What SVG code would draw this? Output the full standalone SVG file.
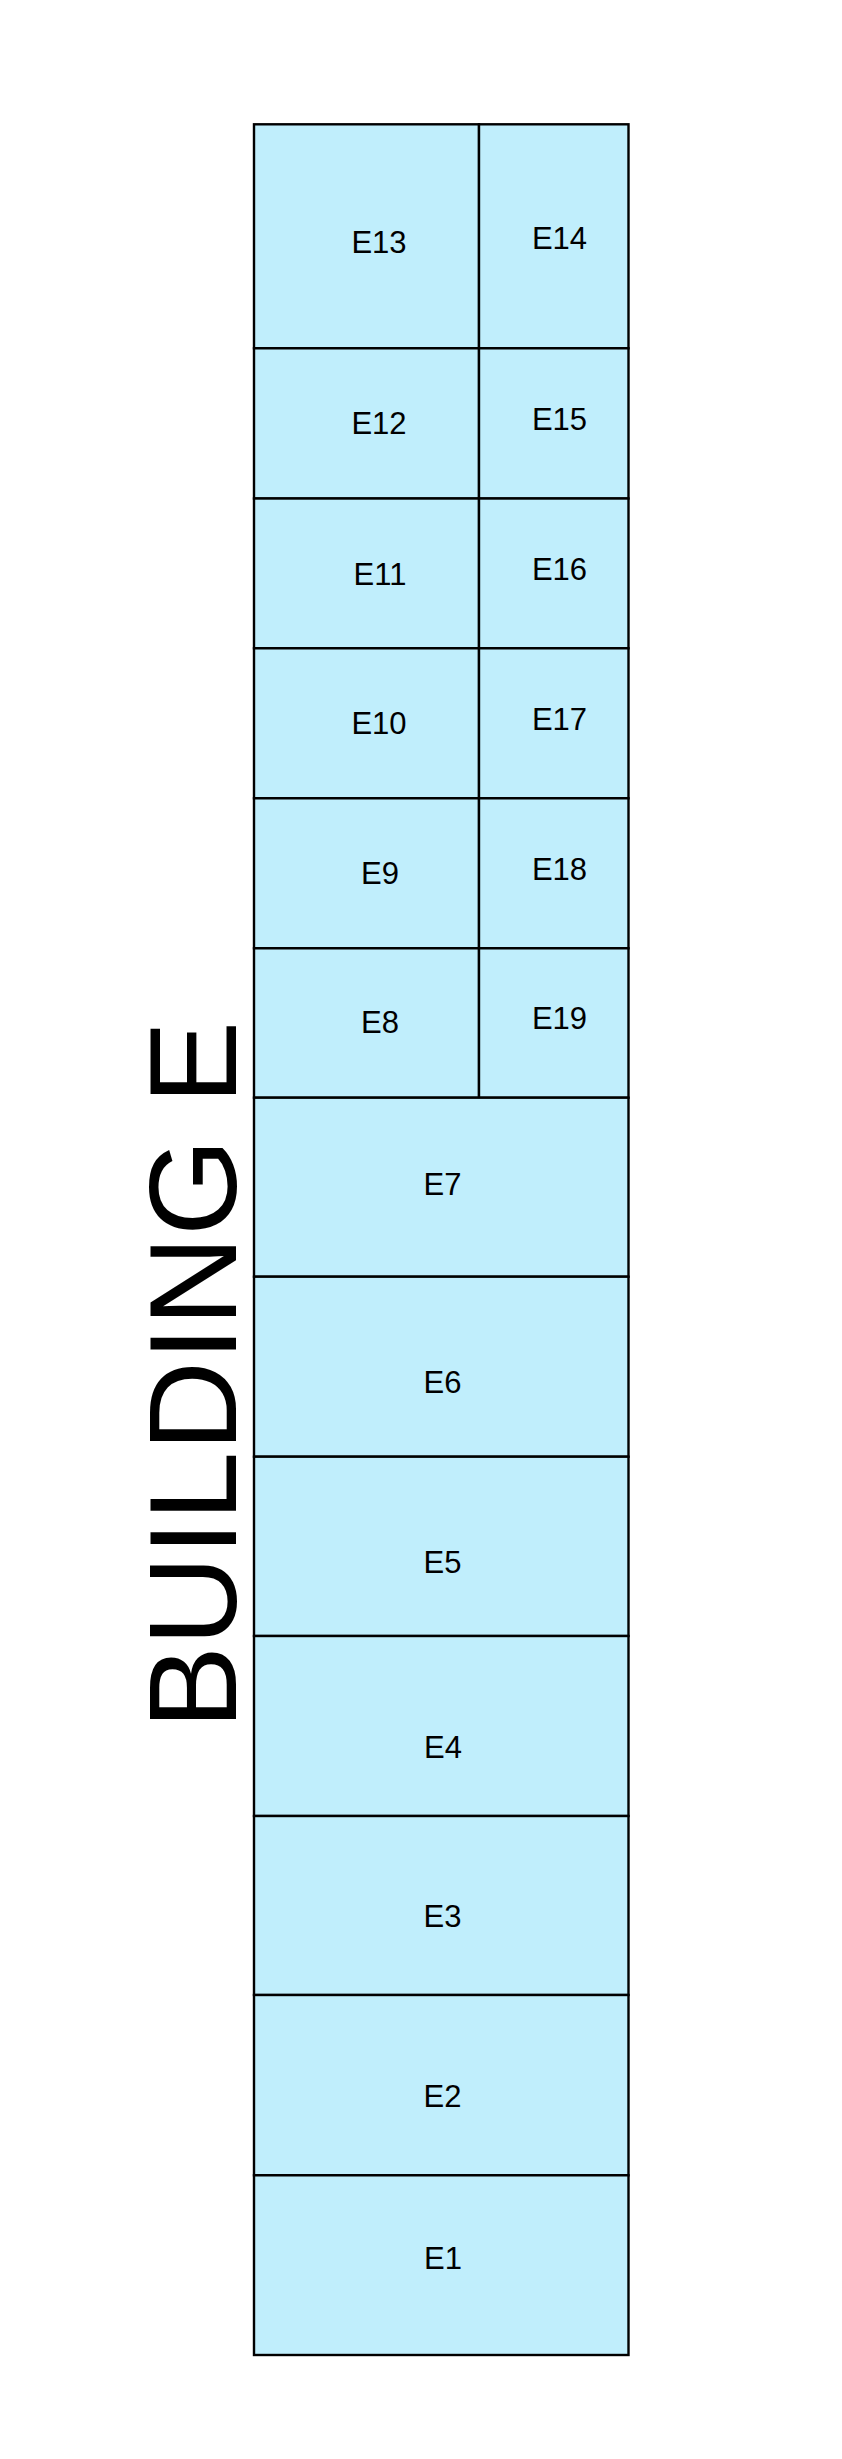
<svg xmlns="http://www.w3.org/2000/svg" width="842" height="2459" viewBox="0 0 842 2459">
<style>
.cell{fill:#C0EEFC;stroke:#000;stroke-width:2.4}
.lbl{font-family:"Liberation Sans",Arial,sans-serif;font-size:31px;fill:#000;text-anchor:middle}
.title{font-family:"Liberation Sans",Arial,sans-serif;font-size:125px;fill:#000;text-anchor:middle}
</style>
<rect width="842" height="2459" fill="#fff"/>
<g id="E13"><rect class="cell" x="254" y="124.3" width="225" height="224"/><text class="lbl" x="379" y="253.3">E13</text></g>
<g id="E14"><rect class="cell" x="479" y="124.3" width="149.5" height="224"/><text class="lbl" x="559.5" y="249.3">E14</text></g>
<g id="E12"><rect class="cell" x="254" y="348.3" width="225" height="150.2"/><text class="lbl" x="379" y="434.3">E12</text></g>
<g id="E15"><rect class="cell" x="479" y="348.3" width="149.5" height="150.2"/><text class="lbl" x="559.5" y="430">E15</text></g>
<g id="E11"><rect class="cell" x="254" y="498.5" width="225" height="149.8"/><text class="lbl" x="380" y="585">E11</text></g>
<g id="E16"><rect class="cell" x="479" y="498.5" width="149.5" height="149.8"/><text class="lbl" x="559.5" y="580">E16</text></g>
<g id="E10"><rect class="cell" x="254" y="648.3" width="225" height="150"/><text class="lbl" x="379" y="734">E10</text></g>
<g id="E17"><rect class="cell" x="479" y="648.3" width="149.5" height="150"/><text class="lbl" x="559.5" y="730">E17</text></g>
<g id="E9"><rect class="cell" x="254" y="798.3" width="225" height="150"/><text class="lbl" x="380" y="884">E9</text></g>
<g id="E18"><rect class="cell" x="479" y="798.3" width="149.5" height="150"/><text class="lbl" x="559.5" y="880">E18</text></g>
<g id="E8"><rect class="cell" x="254" y="948.3" width="225" height="149.4"/><text class="lbl" x="380" y="1032.7">E8</text></g>
<g id="E19"><rect class="cell" x="479" y="948.3" width="149.5" height="149.4"/><text class="lbl" x="559.5" y="1029.3">E19</text></g>
<g id="E7"><rect class="cell" x="254" y="1097.7" width="374.5" height="179"/><text class="lbl" x="442.5" y="1195">E7</text></g>
<g id="E6"><rect class="cell" x="254" y="1276.7" width="374.5" height="180"/><text class="lbl" x="442.5" y="1393.3">E6</text></g>
<g id="E5"><rect class="cell" x="254" y="1456.7" width="374.5" height="179.3"/><text class="lbl" x="442.5" y="1572.7">E5</text></g>
<g id="E4"><rect class="cell" x="254" y="1636" width="374.5" height="180"/><text class="lbl" x="443" y="1758.3">E4</text></g>
<g id="E3"><rect class="cell" x="254" y="1816" width="374.5" height="179"/><text class="lbl" x="442.5" y="1926.7">E3</text></g>
<g id="E2"><rect class="cell" x="254" y="1995" width="374.5" height="180.3"/><text class="lbl" x="442.5" y="2106.7">E2</text></g>
<g id="E1"><rect class="cell" x="254" y="2175.3" width="374.5" height="179.7"/><text class="lbl" x="443" y="2269">E1</text></g>
<g id="title"><text class="title" transform="translate(236,1375) rotate(-90)">BUILDING E</text></g>
</svg>
